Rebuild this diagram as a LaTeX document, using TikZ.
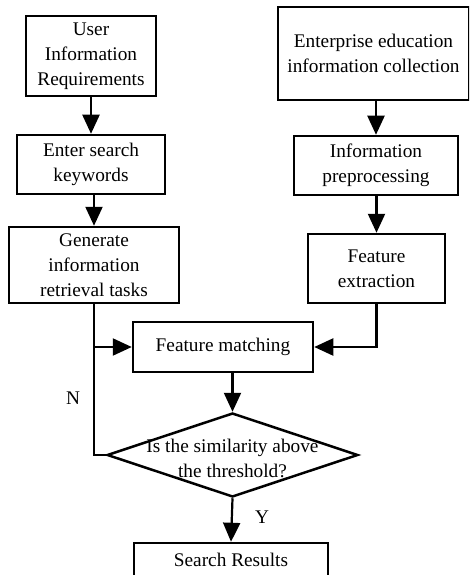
\documentclass[tikz,border=0pt]{standalone}
\usepackage{fontspec}
\setmainfont{Liberation Serif}
\usetikzlibrary{arrows.meta,shapes.geometric}
\begin{document}
\begin{tikzpicture}[x=1pt,y=-1pt,
  font=\fontsize{19.3}{25}\selectfont,
  box/.style={draw,line width=2.5pt,align=center,inner sep=0pt,anchor=center},
  link/.style={line width=2.2pt},
  arr/.style={link,-{Triangle[length=19pt,width=17pt]}},
  lbl/.style={inner sep=0pt,anchor=center}]
\useasboundingbox (0,0) rectangle (469,575);
\begin{scope}
\clip (0,0) rectangle (469,575);
% left column
\node[box,minimum width=130pt,minimum height=80pt] (b1) at (91,56) {User\\Information\\Requirements};
\node[box,minimum width=148pt,minimum height=59pt] (b2) at (91,164.5) {Enter search\\keywords};
\node[box,minimum width=170pt,minimum height=76pt] (b3) at (94,265) {Generate\\information\\retrieval tasks};
% right column
\node[box,minimum width=191pt,minimum height=93pt] (b4) at (373.5,53.5) {Enterprise education\\information collection};
\node[box,minimum width=164pt,minimum height=59pt] (b5) at (376,165.5) {Information\\preprocessing};
\node[box,minimum width=137pt,minimum height=69pt] (b6) at (376.5,268.5) {Feature\\extraction};
% matching, decision and result
\node[box,minimum width=180pt,minimum height=50pt] (fm) at (223,347) {Feature matching};
\node[draw,shape=diamond,line width=2.5pt,inner sep=0pt,minimum width=251pt,minimum height=84pt] (dia) at (232.5,455) {};
\node[lbl,align=center] (diatext) at (232.5,458) {Is the similarity above\\the threshold?};
\node[box,minimum width=194pt,minimum height=34pt] (sr) at (231,560) {Search Results};
% connectors
\draw[arr] (b1.south) -- (b2.north);
\draw[arr] (b3.north |- b2.south) -- (b3.north);
\draw[arr] (b5.north |- b4.south) -- (b5.north);
\draw[arr] (b5.south) -- (b6.north |- b5.south) -- (b6.north);
\draw[arr] (b3.south) |- (fm.west);
\draw[arr] (b6.south) |- (fm.east);
\draw[arr] (dia.north |- fm.south) -- (dia.north);
\coordinate (loop) at (b3.south |- fm.west);
\draw[link] (dia.west) -| (loop);
\draw[arr] (dia.south) -- (sr.north);
% branch labels
\node[lbl] (nlab) at (73,398) {N};
\node[lbl] (ylab) at (262,517) {Y};
\end{scope}
\end{tikzpicture}
\end{document}
